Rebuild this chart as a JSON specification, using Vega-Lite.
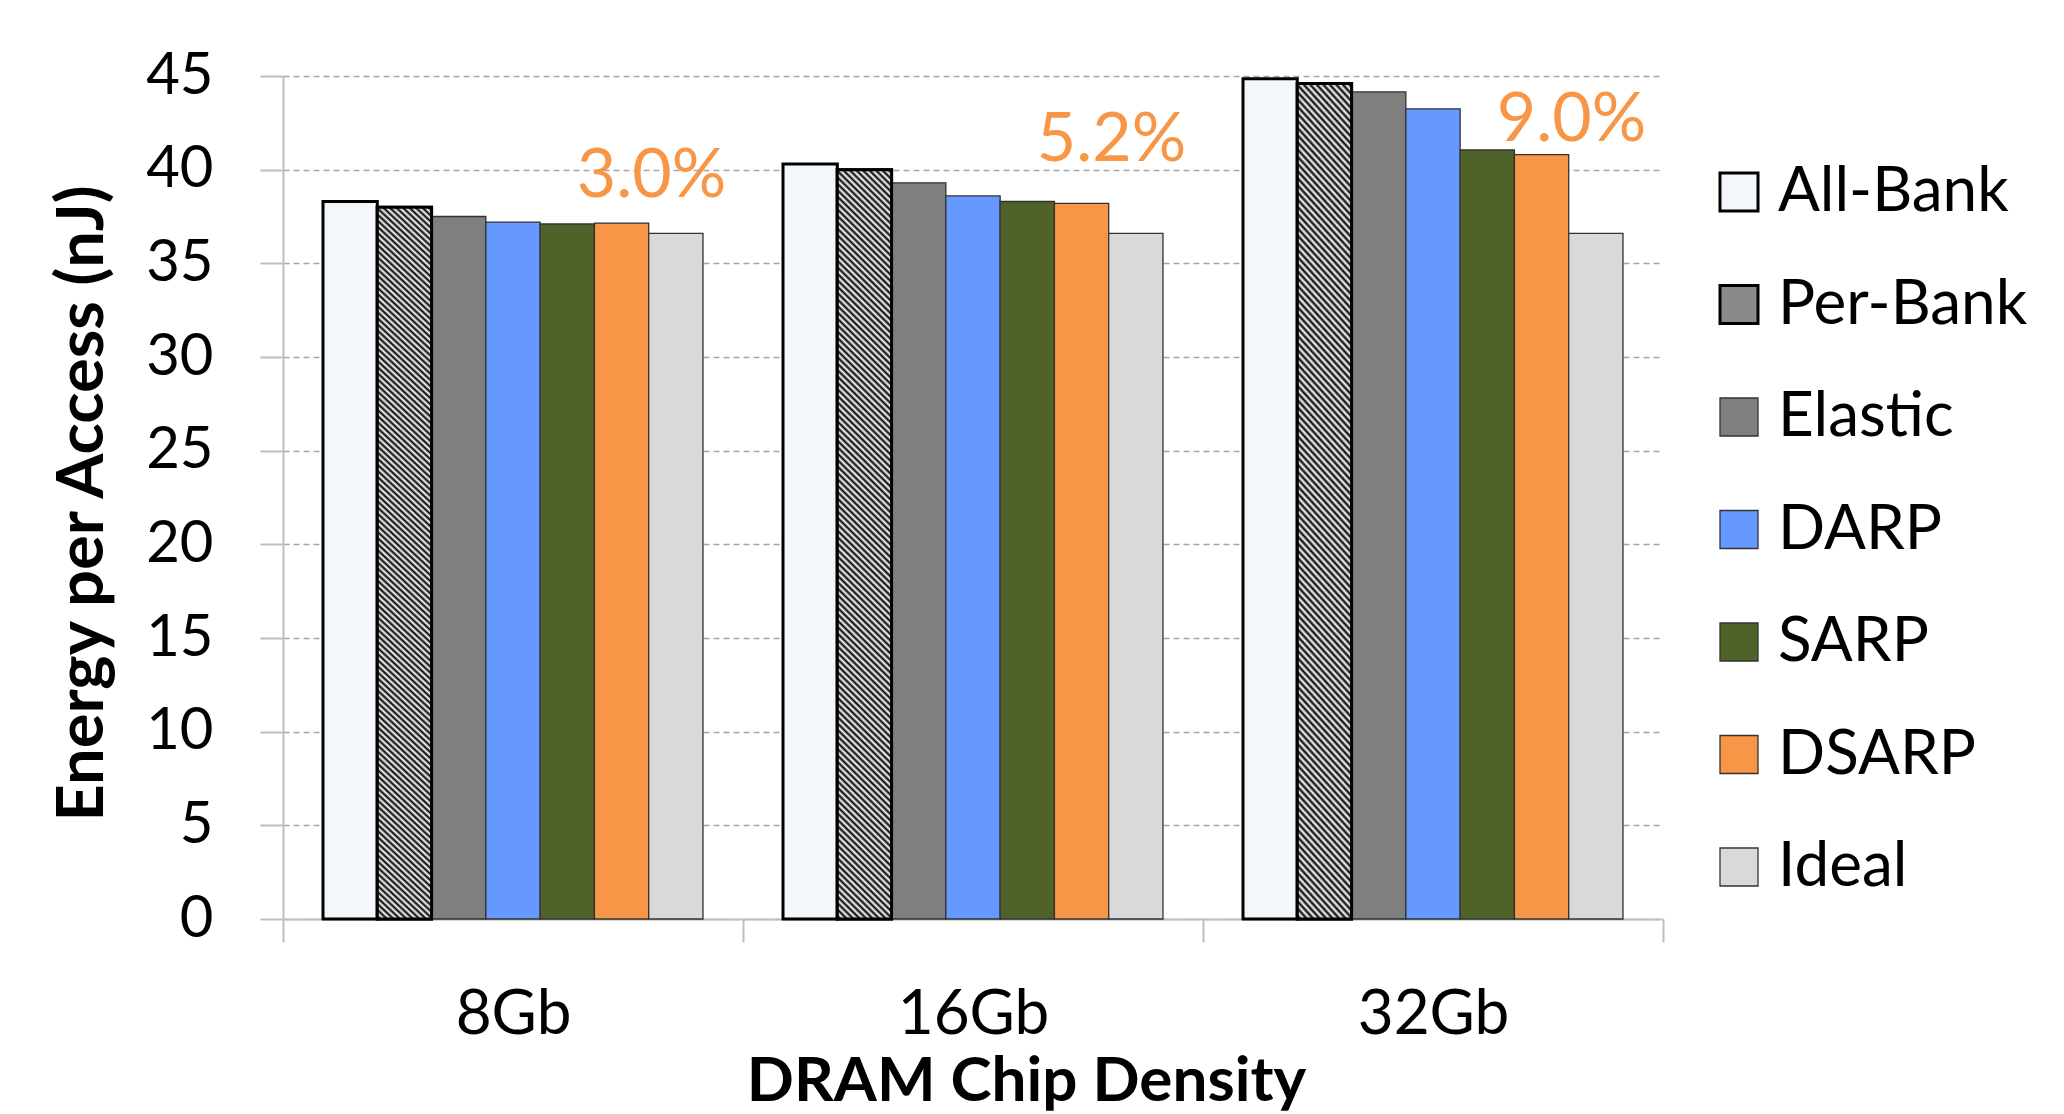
{
  "$schema": "https://vega.github.io/schema/vega-lite/v6.json",
  "width": 1380,
  "height": 843,
  "autosize": {"type": "none"},
  "padding": {"left": 283, "top": 76, "right": 401, "bottom": 195},
  "background": "white",
  "config": {"view": {"stroke": null}, "font": "Lato"},
  "data": {
    "values": [
      {"density": "8Gb", "scheme": "All-Bank", "energy": 38.3},
      {"density": "8Gb", "scheme": "Per-Bank", "energy": 38.0},
      {"density": "8Gb", "scheme": "Elastic", "energy": 37.5},
      {"density": "8Gb", "scheme": "DARP", "energy": 37.2},
      {"density": "8Gb", "scheme": "SARP", "energy": 37.1},
      {"density": "8Gb", "scheme": "DSARP", "energy": 37.15},
      {"density": "8Gb", "scheme": "Ideal", "energy": 36.6},
      {"density": "16Gb", "scheme": "All-Bank", "energy": 40.3},
      {"density": "16Gb", "scheme": "Per-Bank", "energy": 40.0},
      {"density": "16Gb", "scheme": "Elastic", "energy": 39.3},
      {"density": "16Gb", "scheme": "DARP", "energy": 38.6},
      {"density": "16Gb", "scheme": "SARP", "energy": 38.3},
      {"density": "16Gb", "scheme": "DSARP", "energy": 38.2},
      {"density": "16Gb", "scheme": "Ideal", "energy": 36.6},
      {"density": "32Gb", "scheme": "All-Bank", "energy": 44.85},
      {"density": "32Gb", "scheme": "Per-Bank", "energy": 44.6},
      {"density": "32Gb", "scheme": "Elastic", "energy": 44.15},
      {"density": "32Gb", "scheme": "DARP", "energy": 43.25},
      {"density": "32Gb", "scheme": "SARP", "energy": 41.05},
      {"density": "32Gb", "scheme": "DSARP", "energy": 40.8},
      {"density": "32Gb", "scheme": "Ideal", "energy": 36.6}
    ]
  },
  "layer": [
    {
      "mark": {"type": "bar"},
      "encoding": {
        "x": {
          "field": "density", "type": "nominal", "title": "DRAM Chip Density",
          "scale": {"domain": ["8Gb", "16Gb", "32Gb"], "paddingInner": 0, "paddingOuter": 0},
          "axis": {
            "labelAngle": 0, "tickBand": "extent", "grid": false,
            "tickSize": 23, "tickColor": "#bfbfbf", "tickWidth": 2,
            "domainColor": "#bfbfbf", "domainWidth": 2,
            "labelFont": "Lato", "labelFontSize": 62, "labelColor": "#000", "labelBaseline": "alphabetic", "labelPadding": 91,
            "titleFont": "Lato", "titleFontSize": 62, "titleFontWeight": "bold", "titleColor": "#000",
            "titleX": 743, "titleY": 181, "titleAlign": "center", "titleBaseline": "alphabetic"
          }
        },
        "xOffset": {
          "field": "scheme", "type": "nominal",
          "scale": {"domain": ["All-Bank", "Per-Bank", "Elastic", "DARP", "SARP", "DSARP", "Ideal"], "paddingInner": 0, "paddingOuter": 0.737}
        },
        "y": {
          "field": "energy", "type": "quantitative", "title": "Energy per Access (nJ)",
          "scale": {"domain": [0, 45], "nice": false},
          "axis": {
            "values": [0, 5, 10, 15, 20, 25, 30, 35, 40, 45],
            "grid": true, "gridDash": [6, 4], "gridColor": "#a6a6a6", "gridWidth": 1.3,
            "domainColor": "#bfbfbf", "domainWidth": 2,
            "tickSize": 23, "tickColor": "#bfbfbf", "tickWidth": 2,
            "labelFont": "Lato", "labelFontSize": 58, "labelColor": "#000", "labelPadding": 47,
            "titleFont": "Lato", "titleFontSize": 65, "titleFontWeight": "bold", "titleColor": "#000",
            "titleAngle": 270, "titleX": -181, "titleY": 427, "titleAlign": "center", "titleBaseline": "alphabetic"
          }
        },
        "color": {
          "field": "scheme", "type": "nominal",
          "scale": {
            "domain": ["All-Bank", "Per-Bank", "Elastic", "DARP", "SARP", "DSARP", "Ideal"],
            "range": ["#f3f6fb", "#8a8a8a", "#7f7f7f", "#6699ff", "#4f6228", "#f79646", "#d9d9d9"]
          },
          "legend": {
            "title": null, "orient": "none", "legendX": 1425, "legendY": 85,
            "symbolType": "square", "symbolSize": 1444, "symbolOpacity": 1,
            "symbolStrokeColor": "#333", "symbolStrokeWidth": 1.3,
            "labelFont": "Lato", "labelFontSize": 62, "labelColor": "#000", "labelOffset": 8, "labelLimit": 500,
            "rowPadding": 50.5,
            "encode": {
              "symbols": {
                "update": {
                  "stroke": {"signal": "datum.value === 'All-Bank' || datum.value === 'Per-Bank' ? '#000' : '#333'"},
                  "strokeWidth": {"signal": "datum.value === 'All-Bank' || datum.value === 'Per-Bank' ? 3 : 1.3"}
                }
              }
            }
          }
        },
        "stroke": {
          "condition": {"test": "datum.scheme === 'All-Bank' || datum.scheme === 'Per-Bank'", "value": "#000"},
          "value": "#333"
        },
        "strokeWidth": {
          "condition": {"test": "datum.scheme === 'All-Bank' || datum.scheme === 'Per-Bank'", "value": 3},
          "value": 1.3
        }
      }
    },
    {
      "transform": [{"filter": "datum.scheme === 'Per-Bank'"}],
      "mark": {
        "type": "bar", "stroke": "#000", "strokeWidth": 3,
        "fill": {"gradient": "linear", "x1": 0, "y1": 1, "x2": 0.0761, "y2": -0.066, "stops": [
          {"offset": 0, "color": "#fff"}, {"offset": 0.004, "color": "#000"}, {"offset": 0.008, "color": "#fff"}, {"offset": 0.012, "color": "#000"}, {"offset": 0.016, "color": "#fff"},
          {"offset": 0.02, "color": "#000"}, {"offset": 0.024, "color": "#fff"}, {"offset": 0.028, "color": "#000"}, {"offset": 0.032, "color": "#fff"}, {"offset": 0.036, "color": "#000"},
          {"offset": 0.04, "color": "#fff"}, {"offset": 0.044, "color": "#000"}, {"offset": 0.048, "color": "#fff"}, {"offset": 0.052, "color": "#000"}, {"offset": 0.056, "color": "#fff"},
          {"offset": 0.06, "color": "#000"}, {"offset": 0.064, "color": "#fff"}, {"offset": 0.068, "color": "#000"}, {"offset": 0.072, "color": "#fff"}, {"offset": 0.076, "color": "#000"},
          {"offset": 0.08, "color": "#fff"}, {"offset": 0.084, "color": "#000"}, {"offset": 0.088, "color": "#fff"}, {"offset": 0.092, "color": "#000"}, {"offset": 0.096, "color": "#fff"},
          {"offset": 0.1, "color": "#000"}, {"offset": 0.104, "color": "#fff"}, {"offset": 0.108, "color": "#000"}, {"offset": 0.112, "color": "#fff"}, {"offset": 0.116, "color": "#000"},
          {"offset": 0.12, "color": "#fff"}, {"offset": 0.124, "color": "#000"}, {"offset": 0.128, "color": "#fff"}, {"offset": 0.132, "color": "#000"}, {"offset": 0.136, "color": "#fff"},
          {"offset": 0.14, "color": "#000"}, {"offset": 0.144, "color": "#fff"}, {"offset": 0.148, "color": "#000"}, {"offset": 0.152, "color": "#fff"}, {"offset": 0.156, "color": "#000"},
          {"offset": 0.16, "color": "#fff"}, {"offset": 0.164, "color": "#000"}, {"offset": 0.168, "color": "#fff"}, {"offset": 0.172, "color": "#000"}, {"offset": 0.176, "color": "#fff"},
          {"offset": 0.18, "color": "#000"}, {"offset": 0.184, "color": "#fff"}, {"offset": 0.188, "color": "#000"}, {"offset": 0.192, "color": "#fff"}, {"offset": 0.196, "color": "#000"},
          {"offset": 0.2, "color": "#fff"}, {"offset": 0.204, "color": "#000"}, {"offset": 0.208, "color": "#fff"}, {"offset": 0.212, "color": "#000"}, {"offset": 0.216, "color": "#fff"},
          {"offset": 0.22, "color": "#000"}, {"offset": 0.224, "color": "#fff"}, {"offset": 0.228, "color": "#000"}, {"offset": 0.232, "color": "#fff"}, {"offset": 0.236, "color": "#000"},
          {"offset": 0.24, "color": "#fff"}, {"offset": 0.244, "color": "#000"}, {"offset": 0.248, "color": "#fff"}, {"offset": 0.252, "color": "#000"}, {"offset": 0.256, "color": "#fff"},
          {"offset": 0.26, "color": "#000"}, {"offset": 0.264, "color": "#fff"}, {"offset": 0.268, "color": "#000"}, {"offset": 0.272, "color": "#fff"}, {"offset": 0.276, "color": "#000"},
          {"offset": 0.28, "color": "#fff"}, {"offset": 0.284, "color": "#000"}, {"offset": 0.288, "color": "#fff"}, {"offset": 0.292, "color": "#000"}, {"offset": 0.296, "color": "#fff"},
          {"offset": 0.3, "color": "#000"}, {"offset": 0.304, "color": "#fff"}, {"offset": 0.308, "color": "#000"}, {"offset": 0.312, "color": "#fff"}, {"offset": 0.316, "color": "#000"},
          {"offset": 0.32, "color": "#fff"}, {"offset": 0.324, "color": "#000"}, {"offset": 0.328, "color": "#fff"}, {"offset": 0.332, "color": "#000"}, {"offset": 0.336, "color": "#fff"},
          {"offset": 0.34, "color": "#000"}, {"offset": 0.344, "color": "#fff"}, {"offset": 0.348, "color": "#000"}, {"offset": 0.352, "color": "#fff"}, {"offset": 0.356, "color": "#000"},
          {"offset": 0.36, "color": "#fff"}, {"offset": 0.364, "color": "#000"}, {"offset": 0.368, "color": "#fff"}, {"offset": 0.372, "color": "#000"}, {"offset": 0.376, "color": "#fff"},
          {"offset": 0.38, "color": "#000"}, {"offset": 0.384, "color": "#fff"}, {"offset": 0.388, "color": "#000"}, {"offset": 0.392, "color": "#fff"}, {"offset": 0.396, "color": "#000"},
          {"offset": 0.4, "color": "#fff"}, {"offset": 0.404, "color": "#000"}, {"offset": 0.408, "color": "#fff"}, {"offset": 0.412, "color": "#000"}, {"offset": 0.416, "color": "#fff"},
          {"offset": 0.42, "color": "#000"}, {"offset": 0.424, "color": "#fff"}, {"offset": 0.428, "color": "#000"}, {"offset": 0.432, "color": "#fff"}, {"offset": 0.436, "color": "#000"},
          {"offset": 0.44, "color": "#fff"}, {"offset": 0.444, "color": "#000"}, {"offset": 0.448, "color": "#fff"}, {"offset": 0.452, "color": "#000"}, {"offset": 0.456, "color": "#fff"},
          {"offset": 0.46, "color": "#000"}, {"offset": 0.464, "color": "#fff"}, {"offset": 0.468, "color": "#000"}, {"offset": 0.472, "color": "#fff"}, {"offset": 0.476, "color": "#000"},
          {"offset": 0.48, "color": "#fff"}, {"offset": 0.484, "color": "#000"}, {"offset": 0.488, "color": "#fff"}, {"offset": 0.492, "color": "#000"}, {"offset": 0.496, "color": "#fff"},
          {"offset": 0.5, "color": "#000"}, {"offset": 0.504, "color": "#fff"}, {"offset": 0.508, "color": "#000"}, {"offset": 0.512, "color": "#fff"}, {"offset": 0.516, "color": "#000"},
          {"offset": 0.52, "color": "#fff"}, {"offset": 0.524, "color": "#000"}, {"offset": 0.528, "color": "#fff"}, {"offset": 0.532, "color": "#000"}, {"offset": 0.536, "color": "#fff"},
          {"offset": 0.54, "color": "#000"}, {"offset": 0.544, "color": "#fff"}, {"offset": 0.548, "color": "#000"}, {"offset": 0.552, "color": "#fff"}, {"offset": 0.556, "color": "#000"},
          {"offset": 0.56, "color": "#fff"}, {"offset": 0.564, "color": "#000"}, {"offset": 0.568, "color": "#fff"}, {"offset": 0.572, "color": "#000"}, {"offset": 0.576, "color": "#fff"},
          {"offset": 0.58, "color": "#000"}, {"offset": 0.584, "color": "#fff"}, {"offset": 0.588, "color": "#000"}, {"offset": 0.592, "color": "#fff"}, {"offset": 0.596, "color": "#000"},
          {"offset": 0.6, "color": "#fff"}, {"offset": 0.604, "color": "#000"}, {"offset": 0.608, "color": "#fff"}, {"offset": 0.612, "color": "#000"}, {"offset": 0.616, "color": "#fff"},
          {"offset": 0.62, "color": "#000"}, {"offset": 0.624, "color": "#fff"}, {"offset": 0.628, "color": "#000"}, {"offset": 0.632, "color": "#fff"}, {"offset": 0.636, "color": "#000"},
          {"offset": 0.64, "color": "#fff"}, {"offset": 0.644, "color": "#000"}, {"offset": 0.648, "color": "#fff"}, {"offset": 0.652, "color": "#000"}, {"offset": 0.656, "color": "#fff"},
          {"offset": 0.66, "color": "#000"}, {"offset": 0.664, "color": "#fff"}, {"offset": 0.668, "color": "#000"}, {"offset": 0.672, "color": "#fff"}, {"offset": 0.676, "color": "#000"},
          {"offset": 0.68, "color": "#fff"}, {"offset": 0.684, "color": "#000"}, {"offset": 0.688, "color": "#fff"}, {"offset": 0.692, "color": "#000"}, {"offset": 0.696, "color": "#fff"},
          {"offset": 0.7, "color": "#000"}, {"offset": 0.704, "color": "#fff"}, {"offset": 0.708, "color": "#000"}, {"offset": 0.712, "color": "#fff"}, {"offset": 0.716, "color": "#000"},
          {"offset": 0.72, "color": "#fff"}, {"offset": 0.724, "color": "#000"}, {"offset": 0.728, "color": "#fff"}, {"offset": 0.732, "color": "#000"}, {"offset": 0.736, "color": "#fff"},
          {"offset": 0.74, "color": "#000"}, {"offset": 0.744, "color": "#fff"}, {"offset": 0.748, "color": "#000"}, {"offset": 0.752, "color": "#fff"}, {"offset": 0.756, "color": "#000"},
          {"offset": 0.76, "color": "#fff"}, {"offset": 0.764, "color": "#000"}, {"offset": 0.768, "color": "#fff"}, {"offset": 0.772, "color": "#000"}, {"offset": 0.776, "color": "#fff"},
          {"offset": 0.78, "color": "#000"}, {"offset": 0.784, "color": "#fff"}, {"offset": 0.788, "color": "#000"}, {"offset": 0.792, "color": "#fff"}, {"offset": 0.796, "color": "#000"},
          {"offset": 0.8, "color": "#fff"}, {"offset": 0.804, "color": "#000"}, {"offset": 0.808, "color": "#fff"}, {"offset": 0.812, "color": "#000"}, {"offset": 0.816, "color": "#fff"},
          {"offset": 0.82, "color": "#000"}, {"offset": 0.824, "color": "#fff"}, {"offset": 0.828, "color": "#000"}, {"offset": 0.832, "color": "#fff"}, {"offset": 0.836, "color": "#000"},
          {"offset": 0.84, "color": "#fff"}, {"offset": 0.844, "color": "#000"}, {"offset": 0.848, "color": "#fff"}, {"offset": 0.852, "color": "#000"}, {"offset": 0.856, "color": "#fff"},
          {"offset": 0.86, "color": "#000"}, {"offset": 0.864, "color": "#fff"}, {"offset": 0.868, "color": "#000"}, {"offset": 0.872, "color": "#fff"}, {"offset": 0.876, "color": "#000"},
          {"offset": 0.88, "color": "#fff"}, {"offset": 0.884, "color": "#000"}, {"offset": 0.888, "color": "#fff"}, {"offset": 0.892, "color": "#000"}, {"offset": 0.896, "color": "#fff"},
          {"offset": 0.9, "color": "#000"}, {"offset": 0.904, "color": "#fff"}, {"offset": 0.908, "color": "#000"}, {"offset": 0.912, "color": "#fff"}, {"offset": 0.916, "color": "#000"},
          {"offset": 0.92, "color": "#fff"}, {"offset": 0.924, "color": "#000"}, {"offset": 0.928, "color": "#fff"}, {"offset": 0.932, "color": "#000"}, {"offset": 0.936, "color": "#fff"},
          {"offset": 0.94, "color": "#000"}, {"offset": 0.944, "color": "#fff"}, {"offset": 0.948, "color": "#000"}, {"offset": 0.952, "color": "#fff"}, {"offset": 0.956, "color": "#000"},
          {"offset": 0.96, "color": "#fff"}, {"offset": 0.964, "color": "#000"}, {"offset": 0.968, "color": "#fff"}, {"offset": 0.972, "color": "#000"}, {"offset": 0.976, "color": "#fff"},
          {"offset": 0.98, "color": "#000"}, {"offset": 0.984, "color": "#fff"}, {"offset": 0.988, "color": "#000"}, {"offset": 0.992, "color": "#fff"}, {"offset": 0.996, "color": "#000"},
          {"offset": 1, "color": "#fff"}
        ]}
      },
      "encoding": {
        "x": {"field": "density", "type": "nominal", "title": "DRAM Chip Density", "scale": {"domain": ["8Gb", "16Gb", "32Gb"], "paddingInner": 0, "paddingOuter": 0}},
        "xOffset": {"field": "scheme", "type": "nominal", "scale": {"domain": ["All-Bank", "Per-Bank", "Elastic", "DARP", "SARP", "DSARP", "Ideal"], "paddingInner": 0, "paddingOuter": 0.737}},
        "y": {"field": "energy", "type": "quantitative", "title": "Energy per Access (nJ)", "scale": {"domain": [0, 45], "nice": false}}
      }
    },
    {
      "data": {
        "values": [
          {"density": "8Gb", "scheme": "DSARP", "at": 38.55, "label": "3.0%"},
          {"density": "16Gb", "scheme": "DSARP", "at": 40.47, "label": "5.2%"},
          {"density": "32Gb", "scheme": "DSARP", "at": 41.54, "label": "9.0%"}
        ]
      },
      "mark": {"type": "text", "font": "Lato", "fontSize": 68, "color": "#f79646", "align": "center", "baseline": "alphabetic", "dx": 30},
      "encoding": {
        "x": {"field": "density", "type": "nominal", "title": "DRAM Chip Density", "scale": {"domain": ["8Gb", "16Gb", "32Gb"], "paddingInner": 0, "paddingOuter": 0}},
        "xOffset": {"field": "scheme", "type": "nominal", "scale": {"domain": ["All-Bank", "Per-Bank", "Elastic", "DARP", "SARP", "DSARP", "Ideal"], "paddingInner": 0, "paddingOuter": 0.737}},
        "y": {"field": "at", "type": "quantitative", "title": "Energy per Access (nJ)", "scale": {"domain": [0, 45], "nice": false}},
        "text": {"field": "label", "type": "nominal"}
      }
    }
  ]
}
